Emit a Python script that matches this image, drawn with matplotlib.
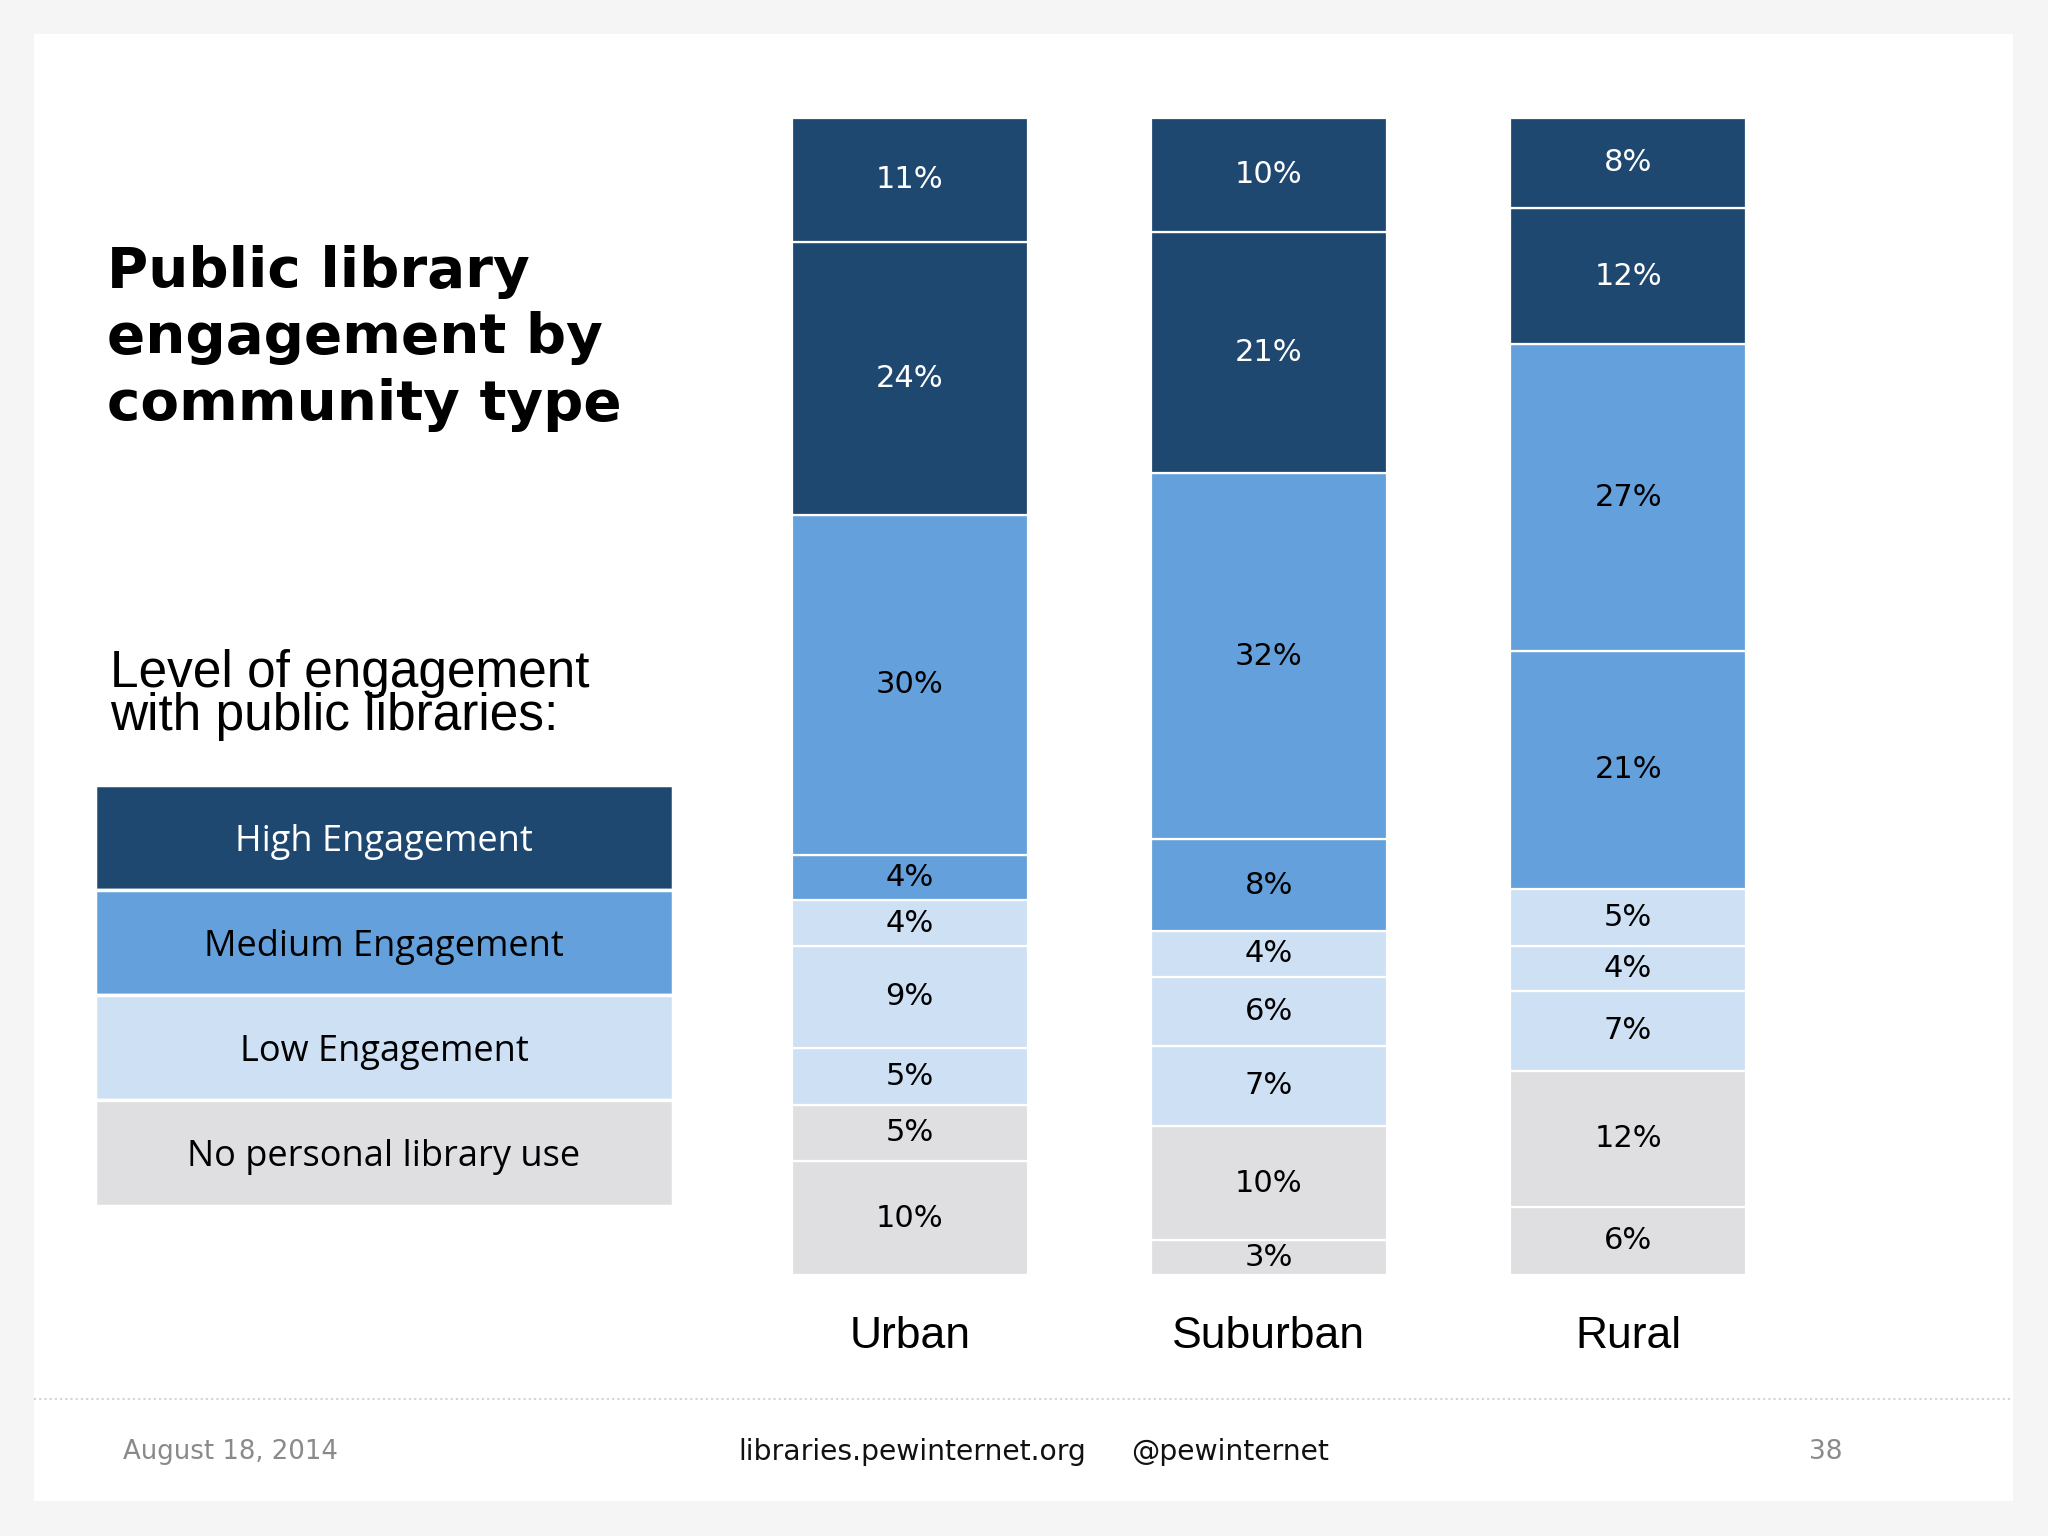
import numpy as np
import matplotlib
matplotlib.use('Agg')
import matplotlib.pyplot as plt
from matplotlib.patches import Rectangle
from matplotlib.lines import Line2D

plt.rcParams['font.family'] = ['DejaVu Sans']

# data, bottom segment first
categories = ['Urban', 'Suburban', 'Rural']
urban = [10, 5, 5, 9, 4, 4, 30, 24, 11]
suburban = [3, 10, 7, 6, 4, 8, 32, 21, 10]
rural = [6, 12, 7, 4, 5, 21, 27, 12, 8]
segment_level = ['none', 'none', 'low', 'low', 'low', 'medium', 'medium', 'high', 'high']

legend_labels = ['High Engagement', 'Medium Engagement', 'Low Engagement', 'No personal library use']
legend_levels = ['high', 'medium', 'low', 'none']

colors = {'high': '#1f4870', 'medium': '#64a0dc', 'low': '#cee0f3', 'none': '#dfdfe1'}
text_colors = {'high': 'white', 'medium': 'black', 'low': 'black', 'none': 'black'}

W, H = 1568.0, 1176.0  # layout measured on a 1568x1176 view

fig = plt.figure(figsize=(20.48, 15.36), dpi=100)
fig.patch.set_facecolor('#f5f5f6')
fig.patches.append(Rectangle((26 / W, 1 - 1149 / H), (1541 - 26) / W, (1149 - 26) / H,
                             transform=fig.transFigure, facecolor='white', edgecolor='none', zorder=-10))
fig.lines.append(Line2D([26 / W, 1541 / W], [1 - 1071 / H, 1 - 1071 / H], transform=fig.transFigure,
                        color='#d4d4d4', linestyle=(0, (1, 1.5)), linewidth=1.5, zorder=-5))

# stacked bars
ax = fig.add_axes([606 / W, 1 - 976 / H, (1337 - 606) / W, (976 - 90) / H])
ax.set_facecolor('none')
x = np.arange(len(categories))
width = 181 / 275
data = np.array([urban, suburban, rural], dtype=float)
shares = data / data.sum(axis=1, keepdims=True) * 100
bottom = np.zeros(len(categories))
for j, level in enumerate(segment_level):
    bars = ax.bar(x, shares[:, j], width, bottom=bottom, color=colors[level],
                  edgecolor='white', linewidth=1.6)
    ax.bar_label(bars, labels=['%d%%' % v for v in data[:, j]], label_type='center',
                 color=text_colors[level], fontsize=22)
    bottom += shares[:, j]
ax.set_xlim(-width / 2, 2 + width / 2)
ax.set_ylim(0, 100)
ax.set_xticks(x)
ax.set_xticklabels(categories, fontsize=32, family='Liberation Sans')
ax.tick_params(axis='x', length=0, pad=30)
ax.set_yticks([])
for s in ax.spines.values():
    s.set_visible(False)

# legend blocks
lax = fig.add_axes([73 / W, 1 - 923 / H, (515 - 73) / W, (923 - 601) / H])
ypos = np.arange(len(legend_labels))[::-1]
lax.barh(ypos, 1, height=1, color=[colors[l] for l in legend_levels], edgecolor='white', linewidth=2.5)
for yy, lab, lev in zip(ypos, legend_labels, legend_levels):
    lax.text(0.5, yy - 0.04, lab, ha='center', va='center', fontsize=26, family='Open Sans',
             color=text_colors[lev])
lax.set_xlim(0, 1)
lax.set_ylim(-0.5, 3.5)
lax.axis('off')

# titles
fig.text(82 / W, 1 - 259 / H, 'Public library\nengagement by\ncommunity type', ha='left', va='center',
         fontsize=40.6, fontweight='bold', linespacing=1.3)
fig.text(84 / W, 1 - 532 / H, 'Level of engagement\nwith public libraries:', ha='left', va='center',
         fontsize=37, family='Liberation Sans', linespacing=0.85)

# footer
fig.text(94 / W, 1 - 1112 / H, 'August 18, 2014', ha='left', va='center', fontsize=18.7, color='#8a8a8a')
fig.text(565 / W, 1 - 1112 / H, 'libraries.pewinternet.org', ha='left', va='center', fontsize=20.3, color='#111111')
fig.text(866 / W, 1 - 1112 / H, '@pewinternet', ha='left', va='center', fontsize=20.3, color='#111111')
fig.text(1398 / W, 1 - 1112 / H, '38', ha='center', va='center', fontsize=19, color='#8a8a8a')

fig.savefig('out.png', dpi=100, facecolor=fig.get_facecolor())
